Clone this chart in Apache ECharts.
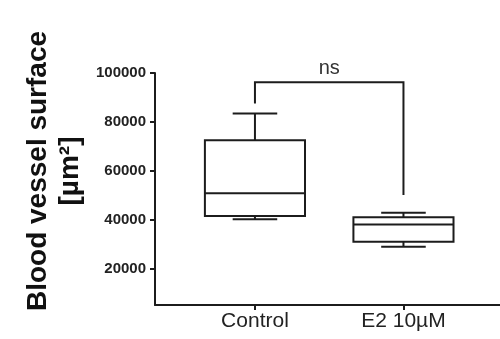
<!DOCTYPE html>
<html>
<head>
<meta charset="utf-8">
<script src="https://cdn.jsdelivr.net/npm/echarts@6/dist/echarts.min.js"></script>
<style>
  html, body { margin: 0; padding: 0; background: #fff; }
  #chart { width: 500px; height: 339px; }
</style>
</head>
<body>
<div id="chart"></div>
<script>
  // groups and box stats: [min, q1, median, q3, max]
  const categories = ['Control', 'E2 10µM']
  const groupX = [1, 2]
  const boxStats = [
    [40300, 41600, 50900, 72600, 83500],
    [29100, 31100, 38200, 41100, 43000]
  ]
  const yTicks = [20000, 40000, 60000, 80000, 100000]
  // significance bracket: left end, top, right end values; label
  const bracket = [87600, 96200, 50200]
  const bracketLabel = 'ns'

  const ink = '#1c1c1c'
  const boxHalf = 0.337
  const capHalf = 0.15

  const chart = echarts.init(document.getElementById('chart'))

  const boxData = groupX.map((x, i) => [x].concat(boxStats[i]))

  const option = {
    animation: false,
    grid: { left: 155, right: 0, top: 73, bottom: 34 },
    xAxis: {
      type: 'value',
      min: 0.327,
      max: 2.65,
      splitLine: { show: false },
      axisLine: { show: true, lineStyle: { color: ink, width: 2 } },
      axisTick: { show: true, customValues: groupX, length: 5, lineStyle: { color: ink, width: 2 } },
      axisLabel: {
        customValues: groupX,
        formatter: v => categories[groupX.indexOf(v)] || '',
        color: '#222',
        fontFamily: 'Liberation Sans, Arial',
        fontSize: 21,
        margin: 6
      }
    },
    yAxis: {
      type: 'value',
      min: 5300,
      max: 100000,
      splitLine: { show: false },
      axisLine: { show: true, lineStyle: { color: ink, width: 2 } },
      axisTick: { show: true, customValues: yTicks, length: 5, lineStyle: { color: ink, width: 2 } },
      axisLabel: {
        customValues: yTicks,
        formatter: v => String(v),
        color: '#222',
        fontFamily: 'Liberation Sans, Arial',
        fontWeight: 'bold',
        fontSize: 15,
        margin: 9
      }
    },
    graphic: [{
      type: 'text',
      x: 54,
      y: 171,
      rotation: Math.PI / 2,
      style: {
        text: 'Blood vessel surface\n[µm²]',
        fill: '#111',
        font: 'bold 28px "Liberation Sans", Arial',
        lineHeight: 32,
        align: 'center',
        verticalAlign: 'middle'
      }
    }],
    series: [{
      type: 'custom',
      data: boxData,
      encode: { x: 0, y: [1, 2, 3, 4, 5] },
      renderItem: function (params, api) {
        const x = api.value(0)
        const mn = api.value(1), q1 = api.value(2), md = api.value(3), q3 = api.value(4), mx = api.value(5)
        const tl = api.coord([x - boxHalf, q3])
        const br = api.coord([x + boxHalf, q1])
        const pMed1 = api.coord([x - boxHalf, md]), pMed2 = api.coord([x + boxHalf, md])
        const pTop = api.coord([x, mx]), pQ3 = api.coord([x, q3])
        const pBot = api.coord([x, mn]), pQ1 = api.coord([x, q1])
        const capT1 = api.coord([x - capHalf, mx]), capT2 = api.coord([x + capHalf, mx])
        const capB1 = api.coord([x - capHalf, mn]), capB2 = api.coord([x + capHalf, mn])
        const ls = { stroke: ink, lineWidth: 2, fill: null }
        return {
          type: 'group',
          children: [
            { type: 'rect', shape: { x: tl[0], y: tl[1], width: br[0] - tl[0], height: br[1] - tl[1] }, style: ls },
            { type: 'line', shape: { x1: pMed1[0], y1: pMed1[1], x2: pMed2[0], y2: pMed2[1] }, style: ls },
            { type: 'line', shape: { x1: pTop[0], y1: pTop[1], x2: pQ3[0], y2: pQ3[1] }, style: ls },
            { type: 'line', shape: { x1: pBot[0], y1: pBot[1], x2: pQ1[0], y2: pQ1[1] }, style: ls },
            { type: 'line', shape: { x1: capT1[0], y1: capT1[1], x2: capT2[0], y2: capT2[1] }, style: ls },
            { type: 'line', shape: { x1: capB1[0], y1: capB1[1], x2: capB2[0], y2: capB2[1] }, style: ls }
          ]
        }
      }
    }, {
      type: 'custom',
      data: [[groupX[0], bracket[0], groupX[1], bracket[1], bracket[2]]],
      encode: { x: [0, 2], y: [1, 3, 4] },
      renderItem: function (params, api) {
        const x1 = api.value(0), yl = api.value(1), x2 = api.value(2), yt = api.value(3), yr = api.value(4)
        const a = api.coord([x1, yl]), b = api.coord([x1, yt]), c = api.coord([x2, yt]), d = api.coord([x2, yr])
        return {
          type: 'group',
          children: [
            { type: 'polyline', shape: { points: [a, b, c, d] }, style: { stroke: ink, lineWidth: 2, fill: null } },
            {
              type: 'text',
              x: (b[0] + c[0]) / 2,
              y: b[1] - 4,
              style: {
                text: bracketLabel,
                fill: '#333',
                font: '20px "Liberation Sans", Arial',
                align: 'center',
                verticalAlign: 'bottom'
              }
            }
          ]
        }
      }
    }]
  }

  chart.setOption(option)
</script>
</body>
</html>
